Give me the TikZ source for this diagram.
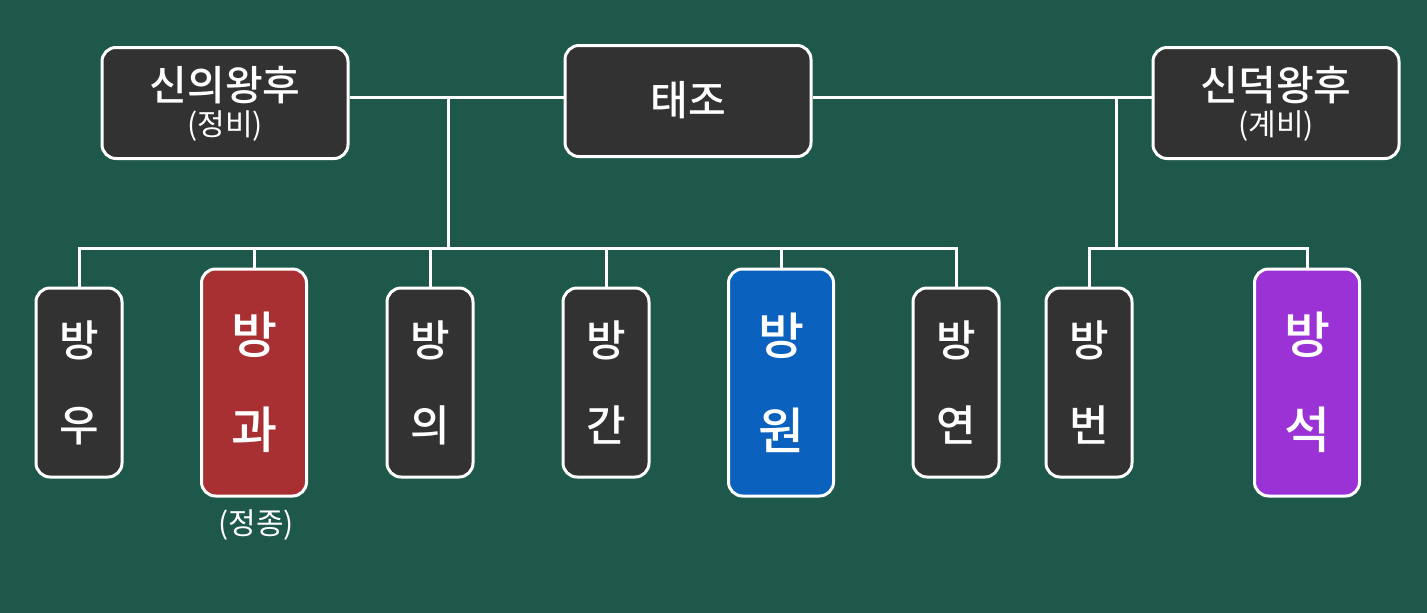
\documentclass[tikz,border=0pt]{standalone}
\usepackage{fontspec}
\newfontfamily\kr[BoldFont={Noto Sans CJK KR Medium}]{Noto Sans CJK KR}
\definecolor{bg}{RGB}{30,88,74}
\definecolor{boxgray}{RGB}{50,50,50}
\definecolor{kred}{RGB}{168,48,50}
\definecolor{kblue}{RGB}{10,98,190}
\definecolor{kpurple}{RGB}{155,50,214}
\tikzset{
  conn/.style={draw=white, line width=3pt},
  topbox/.style={draw=white, line width=3pt, fill=boxgray, rounded corners=14pt,
    minimum width=246pt, minimum height=111pt, inner sep=0pt},
  title/.style={text=white, inner sep=0pt, font=\kr\bfseries\fontsize{41}{45}\selectfont},
  sub/.style={text=white, inner sep=0pt, font=\kr\fontsize{30}{34}\selectfont},
  kid/.style={draw=white, line width=3pt, fill=boxgray, rounded corners=14pt, text=white,
    minimum width=86pt, minimum height=189pt, inner sep=0pt, align=center,
    font=\kr\bfseries\fontsize{43}{85}\selectfont},
  bigkid/.style={kid, minimum width=105pt, minimum height=227pt,
    font=\kr\bfseries\fontsize{50}{95}\selectfont}
}
\begin{document}
\begin{tikzpicture}[x=1pt,y=-1pt]
\useasboundingbox (0,0) rectangle (1427,613);
\fill[bg] (0,0) rectangle (1427,613);
% top boxes
\node[topbox] (sin) at (225,103) {};
\node[title] (sint) at (225,85) {신의왕후};
\node[sub] (sins) at (225,126) {(정비)};
\node[topbox] (tae) at (688,101) {};
\node[title] (taet) at (688,100) {태조};
\node[topbox] (sd) at (1276,103) {};
\node[title] (sdt) at (1276,85) {신덕왕후};
\node[sub] (sds) at (1276,126) {(계비)};
% children
\node[kid] (b1) at (79,382.5) {방\\우};
\node[bigkid, fill=kred] (b2) at (254,382.5) {방\\과};
\node[kid] (b3) at (430,382.5) {방\\의};
\node[kid] (b4) at (606,382.5) {방\\간};
\node[bigkid, fill=kblue] (b5) at (781,382.5) {방\\원};
\node[kid] (b6) at (956,382.5) {방\\연};
\node[kid] (b7) at (1089,382.5) {방\\번};
\node[bigkid, fill=kpurple] (b8) at (1307,382.5) {방\\석};
\node[sub] (jj) at (256,525) {(정종)};
% junctions
\coordinate (j1) at (448,97);
\coordinate (j2) at (1116,97);
\coordinate (k1) at (448,248);
\coordinate (k2) at (1116,248);
% connectors
\draw[conn] (sin.east |- j1) -- (tae.west |- j1);
\draw[conn] (tae.east |- j2) -- (sd.west |- j2);
\draw[conn] (j1) -- (k1);
\draw[conn] (j2) -- (k2);
\draw[conn, line cap=rect] (b1.north |- k1) -- (b6.north |- k1);
\draw[conn, line cap=rect] (b7.north |- k2) -- (b8.north |- k2);
\foreach \b in {b1,b2,b3,b4,b5,b6} \draw[conn] (\b.north |- k1) -- (\b.north);
\foreach \b in {b7,b8} \draw[conn] (\b.north |- k2) -- (\b.north);
\end{tikzpicture}
\end{document}
